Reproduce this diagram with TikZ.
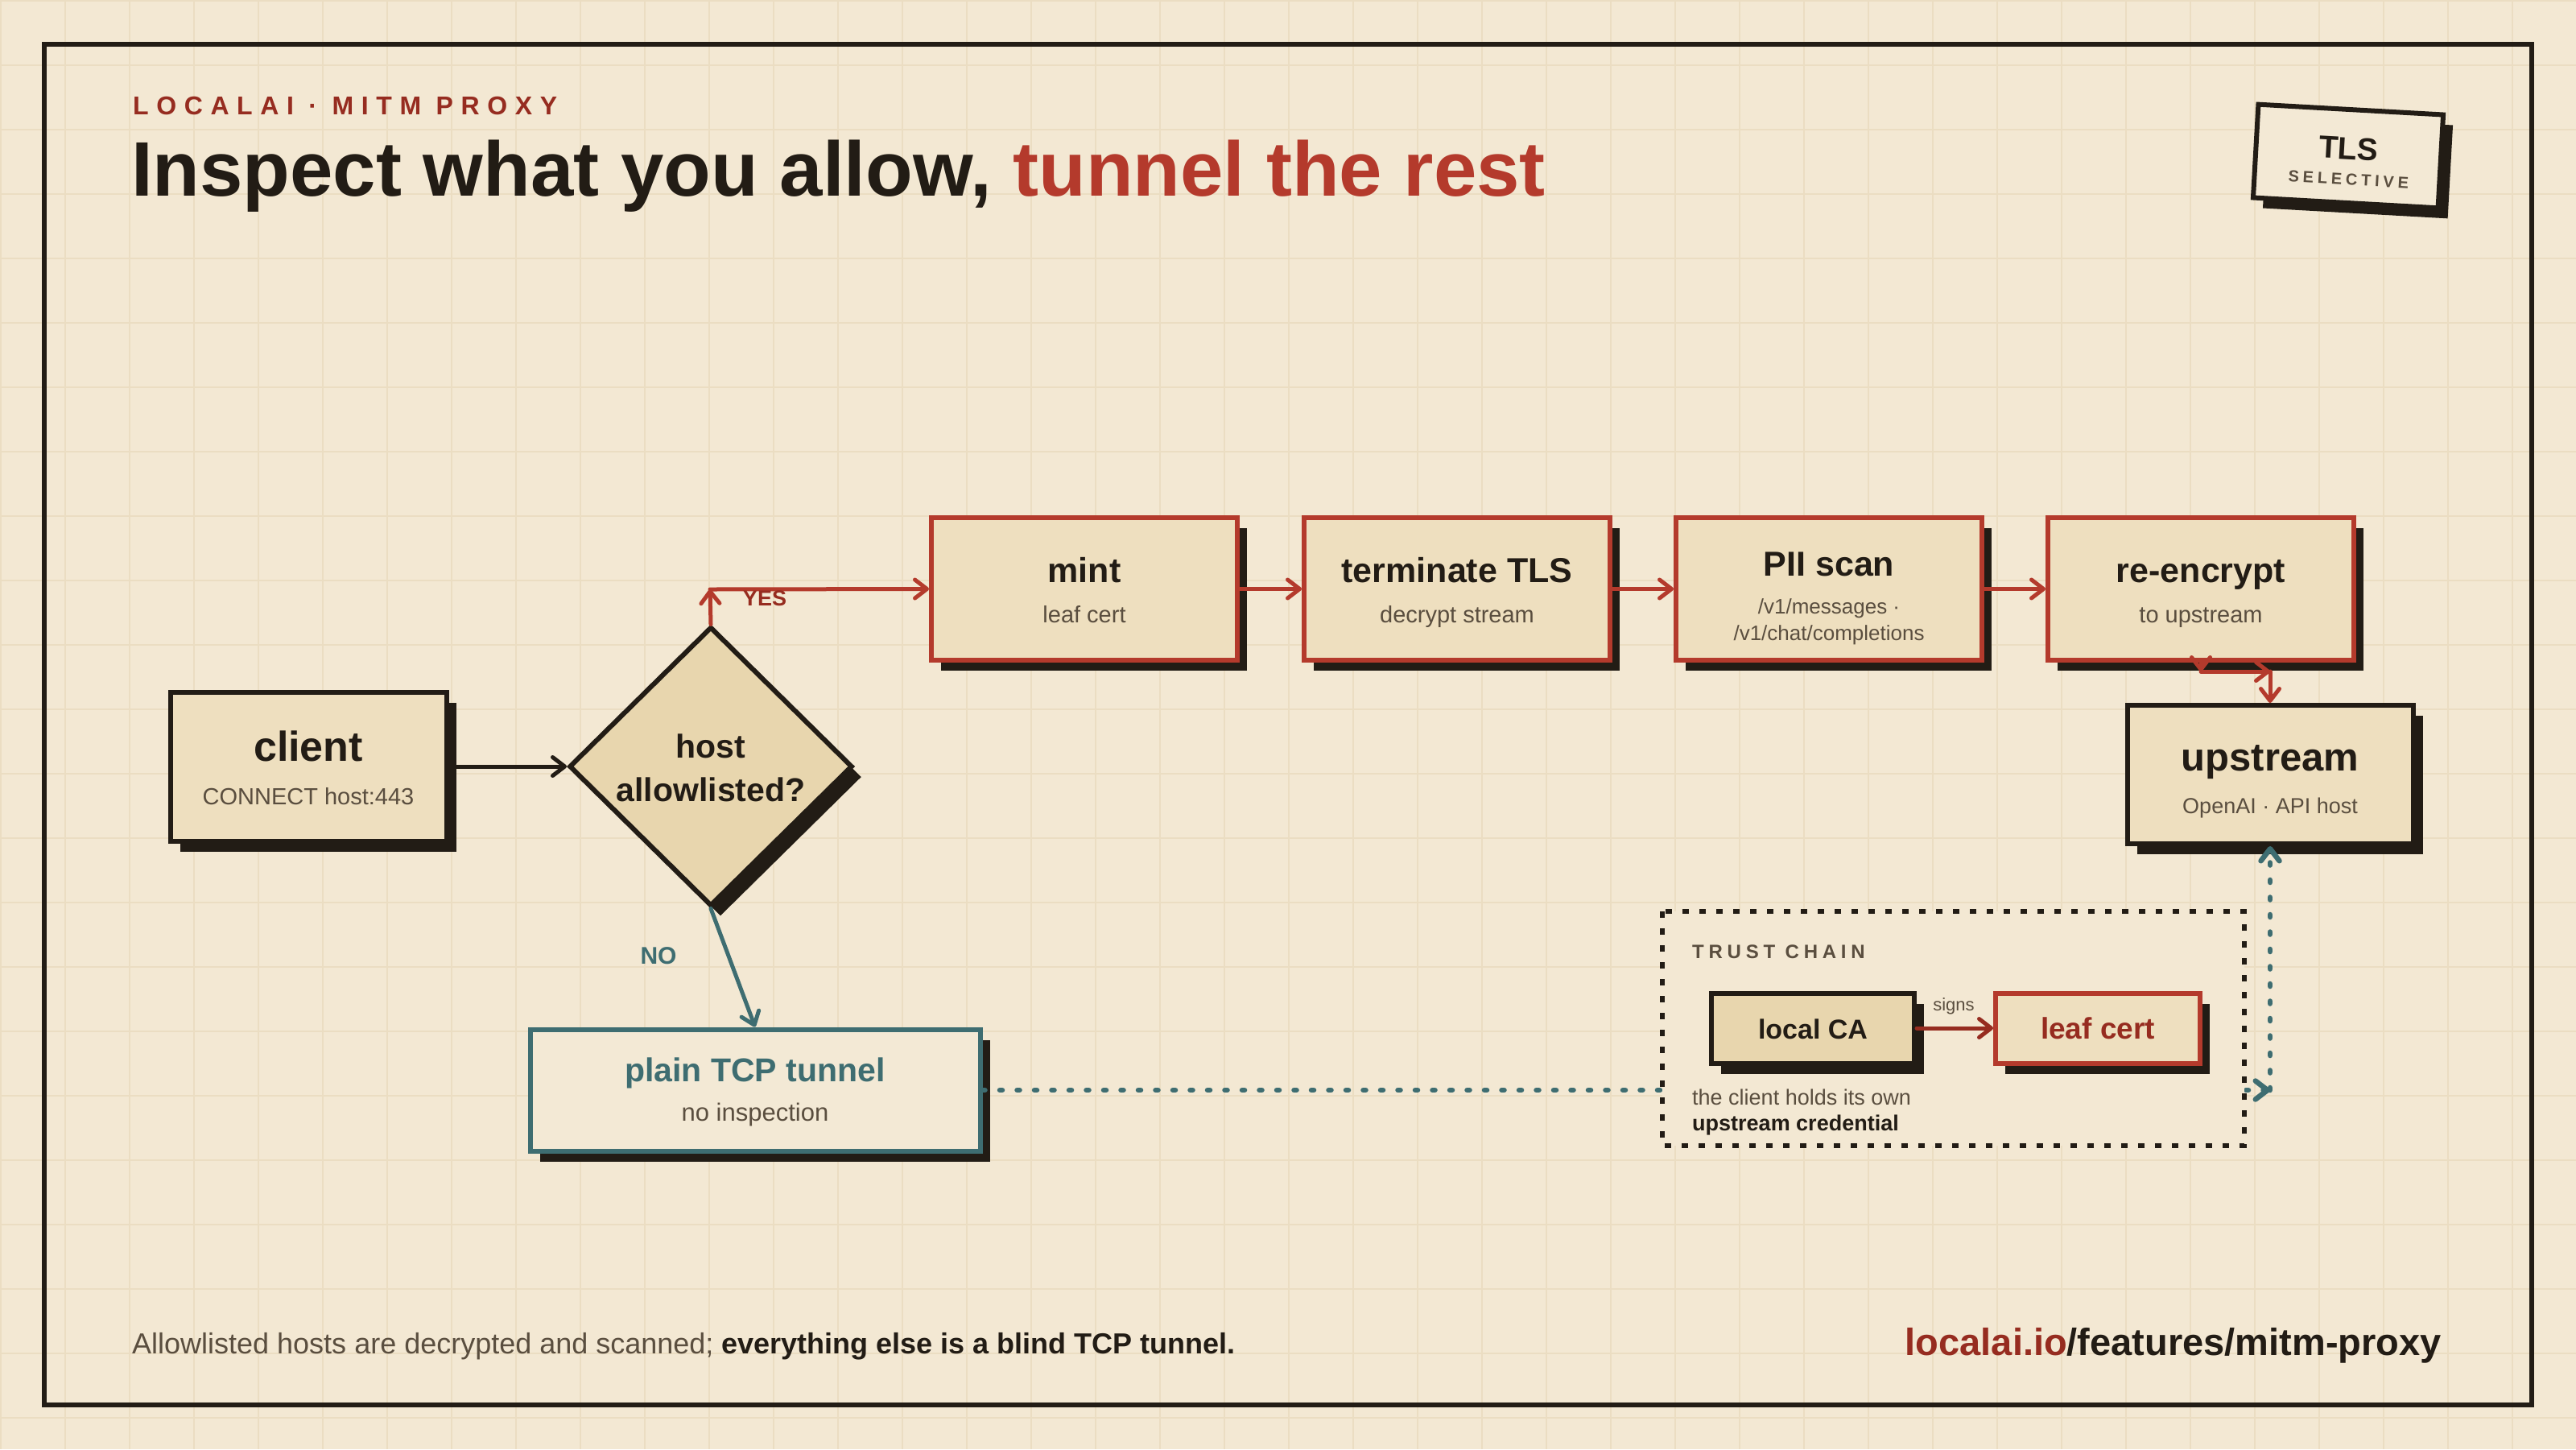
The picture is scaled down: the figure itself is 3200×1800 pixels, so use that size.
\documentclass[tikz,border=0pt]{standalone}
\usepackage{fontspec}
\setmainfont{Liberation Sans}
\usetikzlibrary{arrows.meta,shapes.geometric,shadows,calc}
\definecolor{bg}{HTML}{F3E8D3}
\definecolor{gridc}{HTML}{EBDDC2}
\definecolor{dk}{HTML}{221C15}
\definecolor{rd}{HTML}{B43A2C}
\definecolor{drd}{HTML}{962C20}
\definecolor{tl}{HTML}{3E6D71}
\definecolor{tan}{HTML}{EEDFBF}
\definecolor{tantwo}{HTML}{E8D6AE}
\definecolor{gb}{HTML}{5A4E3F}
\definecolor{lite}{HTML}{F3E9D5}
\newcommand\myfs[1]{\fontsize{#1}{#1}\selectfont}
\begin{document}
\begin{tikzpicture}[x=1pt,y=-1pt,
  >={Straight Barb[length=15pt,width=23pt,round]},
  shad/.style={drop shadow={shadow xshift=12pt,shadow yshift=-13pt,fill=dk,opacity=1}},
  boxbase/.style={rectangle,line width=6pt,inner sep=0pt,shad},
  procbox/.style={boxbase,draw=rd,fill=tan,minimum width=380pt,minimum height=177pt},
  ttl/.style={anchor=base,inner sep=0pt,font=\bfseries\myfs{43},text=dk},
  sub/.style={anchor=base,inner sep=0pt,font=\myfs{29},text=gb},
  conn/.style={line width=5pt,->,line cap=round},
  dotc/.style={line width=6.5pt,tl,dash pattern=on 3pt off 18.5pt,line cap=round,->},
  lbl/.style={inner sep=0pt,font=\bfseries\myfs{28}}]
\useasboundingbox (0,0) rectangle (3200,1800);
\fill[bg] (0,0) rectangle (3200,1800);
\foreach \i in {0,80,...,3200} \draw[gridc,line width=2pt] (\i+1,0) -- (\i+1,1800);
\foreach \j in {0,80,...,1800} \draw[gridc,line width=2pt] (0,\j+1) -- (3200,\j+1);
\draw[dk,line width=6pt] (55,55) rectangle (3145,1745);

% header
\node[anchor=base west,inner sep=0pt,font=\bfseries\myfs{32}\addfontfeatures{LetterSpace=30},text=drd] (hdr) at (165,142) {LOCALAI · MITM PROXY};
\node[anchor=base west,inner sep=0pt,font=\bfseries\myfs{96},text=dk] (title) at (163,243) {Inspect what you allow, \textcolor{rd}{tunnel the rest}};

% badge
\begin{scope}[shift={(2917,194)},rotate=-3.2,transform shape]
\node[boxbase,draw=dk,fill=lite,minimum width=230pt,minimum height=116pt] (badge) at (0,0) {};
\node[anchor=base,inner sep=0pt,font=\bfseries\myfs{39},text=dk] (tls) at (0,4) {TLS};
\node[anchor=base,inner sep=0pt,font=\bfseries\myfs{20}\addfontfeatures{LetterSpace=24},text=gb] (sel) at (2,36) {SELECTIVE};
\end{scope}

% client
\node[boxbase,draw=dk,fill=tan,minimum width=343pt,minimum height=185pt] (client) at (383,952) {};
\node[ttl,font=\bfseries\myfs{52}] (clientT) at (383,945) {client};
\node[sub] (clientS) at (383,999) {CONNECT host:443};

% decision
\node[diamond,draw=dk,line width=6pt,fill=tantwo,minimum width=352pt,minimum height=347pt,inner sep=0pt,shad] (dia) at (883,952) {};
\node[ttl,font=\bfseries\myfs{41}] (diaA) at (883,941) {host};
\node[ttl,font=\bfseries\myfs{41}] (diaB) at (883,995) {allowlisted?};

% process boxes
\node[procbox] (mint) at (1347,731.5) {};
\node[ttl] (mintT) at (1347,723) {mint};
\node[sub] (mintS) at (1347,773) {leaf cert};
\node[procbox] (term) at (1810,731.5) {};
\node[ttl] (termT) at (1810,723) {terminate TLS};
\node[sub] (termS) at (1810,773) {decrypt stream};
\node[procbox] (pii) at (2272,731.5) {};
\node[ttl] (piiT) at (2272,715) {PII scan};
\node[sub,font=\myfs{26}] (piiS) at (2272,762) {/v1/messages ·};
\node[sub,font=\myfs{26}] (piiU) at (2272,795) {/v1/chat/completions};
\node[procbox] (re) at (2734,731.5) {};
\node[ttl] (reT) at (2734,723) {re-encrypt};
\node[sub] (reS) at (2734,773) {to upstream};

% upstream
\node[boxbase,draw=dk,fill=tan,minimum width=355pt,minimum height=172pt] (up) at (2820,962) {};
\node[ttl,font=\bfseries\myfs{49}] (upT) at (2820,957) {upstream};
\node[sub,font=\myfs{27}] (upS) at (2820,1010) {OpenAI · API host};

% plain tunnel
\node[boxbase,draw=tl,fill=lite,minimum width=559pt,minimum height=151pt] (tcp) at (938,1354) {};
\node[ttl,font=\bfseries\myfs{41},text=tl] (tcpT) at (938,1343) {plain TCP tunnel};
\node[sub,font=\myfs{31}] (tcpS) at (938,1392) {no inspection};

% dotted bypass (behind the trust chain panel)
\coordinate (t1) at (2820,1354);
\draw[dotc] (tcp.east) -- (t1);
\draw[dotc] (t1) -- (up.south);

% trust chain
\draw[dk,fill=bg,line width=5.5pt,dash pattern=on 8pt off 13pt] (2065,1132) rectangle (2788,1423);
\node[anchor=base west,inner sep=0pt,font=\bfseries\myfs{24}\addfontfeatures{LetterSpace=24},text=gb] (tc) at (2102,1190) {TRUST CHAIN};
\node[boxbase,draw=dk,fill=tantwo,minimum width=252pt,minimum height=87pt] (ca) at (2252,1277) {};
\node[ttl,font=\bfseries\myfs{34}] (caT) at (2252,1290) {local CA};
\node[boxbase,draw=rd,fill=tan,minimum width=254pt,minimum height=87pt] (leaf) at (2606,1277) {};
\node[ttl,font=\bfseries\myfs{37},text=drd] (leafT) at (2606,1290) {leaf cert};
\node[anchor=base,inner sep=0pt,font=\myfs{22},text=gb] (signs) at (2427,1255) {signs};
\node[anchor=base west,inner sep=0pt,font=\myfs{27},text=gb] (note1) at (2102,1372) {the client holds its own};
\node[anchor=base west,inner sep=0pt,font=\bfseries\myfs{27},text=dk] (note2) at (2102,1404) {upstream credential};
\draw[conn,drd] (ca.east) -- (leaf.west);

% connectors
\draw[conn,dk] (client.east) -- (dia.west);
\coordinate (yc) at (882,732);
\draw[conn,rd] (dia.north) -- (yc);
\draw[conn,rd] (yc) -- (mint.west);
\node[lbl,text=drd,font=\bfseries\myfs{27}] (yes) at (950,743) {YES};
\draw[conn,rd] (mint.east) -- (term.west);
\draw[conn,rd] (term.east) -- (pii.west);
\draw[conn,rd] (pii.east) -- (re.west);
\coordinate (r1) at (2734,834);
\coordinate (r2) at (2820,834);
\draw[conn,rd] (re.south) -- (r1);
\draw[conn,rd] (r1) -- (r2);
\draw[conn,rd] (r2) -- (up.north);
\draw[conn,tl] (dia.south) -- (tcp.north);
\node[lbl,text=tl,font=\bfseries\myfs{30}] (no) at (818,1187) {NO};

% footer
\node[anchor=base west,inner sep=0pt,font=\myfs{36}] (foot) at (164,1681) {\textcolor{gb}{Allowlisted hosts are decrypted and scanned;} \textcolor{dk}{\bfseries everything else is a blind TCP tunnel.}};
\node[anchor=base east,inner sep=0pt,font=\bfseries\myfs{47},text=dk] (url) at (3033,1683) {\textcolor{drd}{localai.io}/features/mitm-proxy};
\end{tikzpicture}
\end{document}
